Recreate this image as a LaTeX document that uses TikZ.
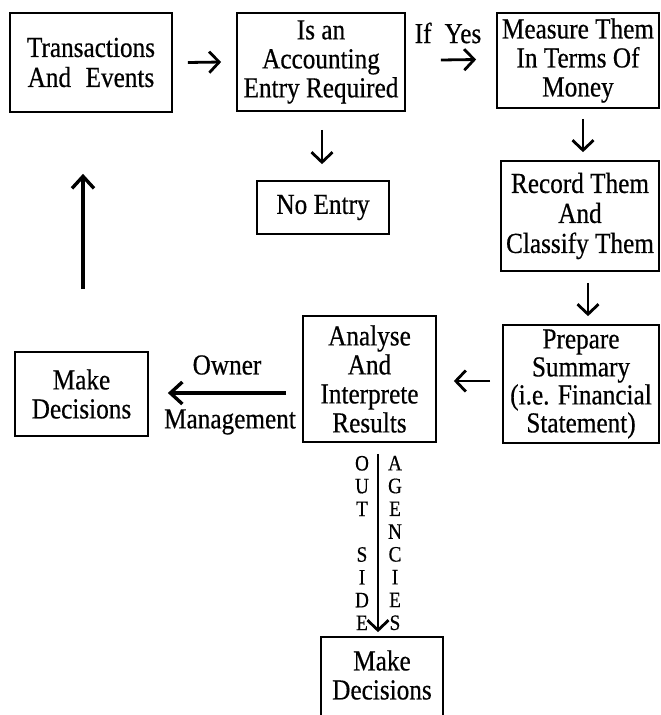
\documentclass[tikz,border=0pt]{standalone}
\usepackage{fontspec}
\setmainfont{Liberation Serif}[FakeStretch=0.87,FakeBold=0.5]
\usetikzlibrary{arrows.meta}
\begin{document}
\begin{tikzpicture}[x=1pt,y=-1pt,
  box/.style={draw, line width=1.7pt, inner sep=0pt, align=center, font=\fontsize{29}{29}\selectfont},
  lbl/.style={inner sep=0pt, font=\fontsize{29}{29}\selectfont},
  arr/.style={line width=2.8pt, -{Straight Barb[length=10pt,width=21pt]}},
  longarr/.style={line width=3.4pt, -{Straight Barb[length=12pt,width=22pt]}},
  letters/.style={inner sep=0pt, align=center, font=\fontsize{22}{22.8}\selectfont}]
\useasboundingbox (0,0) rectangle (661,715);
\clip (0,0) rectangle (661,715);
\fill[white] (0,0) rectangle (661,715);

\node[box, minimum width=162pt, minimum height=99pt, font=\fontsize{29}{30}\selectfont] (b1) at (91,62.5) {Transactions\\And\enspace Events};
\node[box, minimum width=168pt, minimum height=98pt] (b2) at (321,62) {Is an\\Accounting\\Entry Required};
\node[box, minimum width=162pt, minimum height=95pt] (b3) at (578,60.5) {Measure Them\\In Terms Of\\Money};
\node[box, minimum width=132pt, minimum height=53pt] (ne) at (323,207.5) {No Entry};
\node[box, minimum width=158pt, minimum height=110pt, font=\fontsize{29}{30}\selectfont] (rec) at (580,216) {Record Them\\And\\Classify Them};
\node[box, minimum width=156pt, minimum height=118pt, font=\fontsize{29}{28}\selectfont] (prep) at (581,384) {Prepare\\Summary\\(i.e. Financial\\Statement)};
\node[box, minimum width=133pt, minimum height=126pt] (an) at (369.5,379) {Analyse\\And\\Interprete\\Results};
\node[box, minimum width=133pt, minimum height=84pt] (ml) at (81.5,394) {Make\\Decisions};
\node[box, draw=none, minimum width=120pt, minimum height=74pt] (mb) at (382,675) {Make\\Decisions};
\draw[line width=1.7pt] ([yshift=-20pt]mb.south west) -- (mb.north west) -- (mb.north east) -- ([yshift=-20pt]mb.south east);

\node[lbl] (ifyes) at (448,33) {If\hspace{0.45em}Yes};
\node[lbl] (owner) at (227,365) {Owner};
\node[lbl] (mgmt) at (230,422) {Management};
\node[letters] (outside) at (362,543) {O\\U\\T\\\mbox{}\\S\\I\\D\\E};
\node[letters] (agencies) at (395,543) {A\\G\\E\\N\\C\\I\\E\\S};

\draw[arr] ([xshift=15pt]b1.east) -- ([xshift=-15pt]b2.west);
\draw[arr] ([xshift=35pt,yshift=2pt]b2.east) -- ([xshift=-20pt,yshift=1pt]b3.west);
\draw[arr] ([xshift=1pt,yshift=-18pt]b2.south) -- ([xshift=-1pt,yshift=16pt]ne.north);
\draw[arr] ([xshift=5pt,yshift=-10pt]b3.south) -- ([xshift=3pt,yshift=8pt]rec.north);
\draw[arr] ([xshift=8pt,yshift=-11pt]rec.south) -- ([xshift=7pt,yshift=8pt]prep.north);
\draw[arr] ([xshift=-12pt,yshift=3pt]prep.west) -- ([xshift=17pt,yshift=-2pt]an.east);
\draw[longarr] ([xshift=-16pt,yshift=-14pt]an.west) -- ([xshift=19pt,yshift=1pt]ml.east);
\draw[longarr] ([xshift=1.5pt,yshift=62pt]ml.north) -- ([xshift=-8pt,yshift=-61pt]b1.south);
\draw[arr] ([xshift=8.5pt,yshift=-11pt]an.south) -- ([xshift=-4pt,yshift=5pt]mb.north);
\end{tikzpicture}
\end{document}
